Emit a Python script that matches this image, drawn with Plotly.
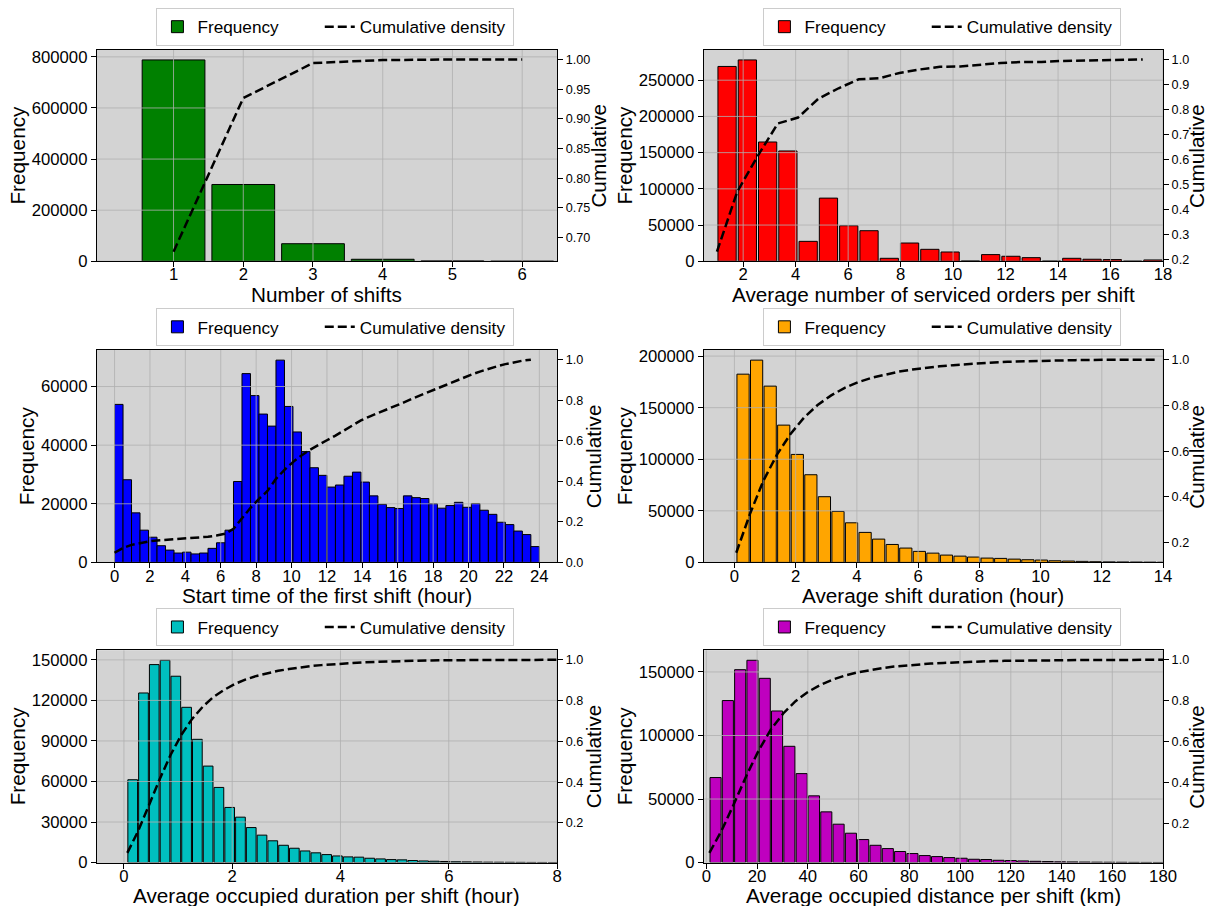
import numpy as np
import plotly.graph_objects as go

FONT = "Liberation Sans, Arial, Helvetica, sans-serif"

# ---------------- data ----------------
# Panel 1: number of shifts
shift_counts = [1, 2, 3, 4, 5, 6]
shift_freq = [788000, 300500, 68700, 7800, 1500, 300]
shift_cum = [0.676, 0.935, 0.994, 0.999, 1.000, 1.000]

# Panel 2: average number of serviced orders per shift (22 bins, 1..18)
orders_bins = (1.0, 18.0, 22)
orders_freq = [269000, 278000, 164700, 152300, 27500, 87200, 49100, 42200, 4100, 25200, 16500,
               12800, 500, 9200, 6900, 5000, 300, 4100, 2800, 2300, 200, 1800]
orders_cum = [0.232, 0.471, 0.613, 0.744, 0.768, 0.843, 0.885, 0.921, 0.925, 0.946, 0.960,
              0.971, 0.972, 0.980, 0.986, 0.990, 0.990, 0.994, 0.996, 0.998, 0.998, 1.000]

# Panel 3: start time of the first shift (50 bins, 0..24 h)
start_bins = (0.0, 24.0, 50)
start_freq = [53900, 28200, 16900, 11000, 8600, 5700, 4200, 3200, 3500, 2900,
              3200, 4800, 6700, 11000, 27600, 64400, 56900, 50600, 46500, 69000,
              53200, 44500, 37800, 32300, 29700, 25700, 26400, 29400, 30800, 27400,
              22700, 19800, 18700, 18400, 22700, 22100, 21800, 20000, 18500, 19400,
              20500, 18800, 20100, 17800, 16400, 13700, 12900, 10700, 9500, 5400]
start_cum = [0.046, 0.070, 0.085, 0.094, 0.102, 0.107, 0.110, 0.113, 0.116, 0.118,
             0.121, 0.125, 0.131, 0.140, 0.164, 0.219, 0.268, 0.312, 0.351, 0.411,
             0.456, 0.494, 0.527, 0.555, 0.580, 0.602, 0.625, 0.650, 0.676, 0.700,
             0.719, 0.736, 0.752, 0.768, 0.788, 0.807, 0.825, 0.842, 0.858, 0.875,
             0.893, 0.909, 0.926, 0.941, 0.955, 0.967, 0.978, 0.987, 0.995, 1.000]

# Panel 4: average shift duration (hour)
dur_bins = (0.06, 0.06 + 0.443 * 32, 32)
dur_freq = [182500, 196100, 170900, 133100, 104700, 85000, 63700, 49400, 38400, 29100,
            22600, 17400, 13900, 10700, 9000, 7100, 6100, 5200, 4200, 3900,
            3200, 2600, 2300, 1600, 1300, 1000, 700, 500, 400, 300, 200, 100]
dur_cum = [0.156, 0.324, 0.471, 0.585, 0.675, 0.747, 0.802, 0.844, 0.877, 0.902,
           0.921, 0.936, 0.948, 0.957, 0.965, 0.971, 0.976, 0.981, 0.984, 0.988,
           0.991, 0.993, 0.995, 0.996, 0.997, 0.998, 0.999, 0.999, 0.9995, 0.9997, 0.9999, 1.000]

# Panel 5: average occupied duration per shift (hour)
occ_bins = (0.063, 0.063 + 0.199 * 41, 41)
occ_freq = [61300, 125500, 146500, 149700, 137900, 114900, 91200, 71400, 55600, 40800,
            33600, 25900, 20300, 16100, 12800, 10600, 8600, 7200, 5900, 4900,
            4200, 4000, 3200, 2700, 2200, 2000, 1500, 1200, 1000, 800,
            600, 500, 400, 300, 250, 200, 150, 100, 80, 50, 30]
occ_cum = [0.053, 0.160, 0.286, 0.414, 0.532, 0.631, 0.709, 0.770, 0.818, 0.853,
           0.882, 0.904, 0.921, 0.935, 0.946, 0.955, 0.963, 0.969, 0.974, 0.978,
           0.982, 0.985, 0.988, 0.990, 0.992, 0.994, 0.995, 0.996, 0.997, 0.998,
           0.998, 0.9987, 0.999, 0.9993, 0.9995, 0.9996, 0.9998, 0.9999, 0.9999, 1.000, 1.000]

# Panel 6: average occupied distance per shift (km)
dist_bins = (1.2, 1.2 + 4.85 * 38, 38)
dist_freq = [66900, 127500, 151800, 159200, 145000, 119300, 91500, 70000, 52500, 39900,
             30200, 23100, 18100, 13600, 11000, 8700, 7100, 5500, 4700, 3900,
             3400, 2600, 2400, 1800, 1600, 1300, 1000, 800, 600, 500,
             400, 300, 250, 200, 150, 100, 80, 50]
dist_cum = [0.057, 0.167, 0.297, 0.433, 0.557, 0.660, 0.738, 0.798, 0.843, 0.877,
            0.903, 0.923, 0.938, 0.950, 0.959, 0.967, 0.973, 0.978, 0.982, 0.985,
            0.988, 0.990, 0.992, 0.994, 0.995, 0.996, 0.997, 0.998, 0.9983, 0.9987,
            0.9991, 0.9993, 0.9995, 0.9997, 0.9998, 0.9999, 1.000, 1.000]

# tick values / labels
p1_xticks = [1, 2, 3, 4, 5, 6]
p1_yticks = [0, 200000, 400000, 600000, 800000]
p1_rticks = [0.70, 0.75, 0.80, 0.85, 0.90, 0.95, 1.00]
p1_rlabels = ["0.70", "0.75", "0.80", "0.85", "0.90", "0.95", "1.00"]

p2_xticks = [2, 4, 6, 8, 10, 12, 14, 16, 18]
p2_yticks = [0, 50000, 100000, 150000, 200000, 250000]
p2_rticks = [0.2, 0.3, 0.4, 0.5, 0.6, 0.7, 0.8, 0.9, 1.0]
p2_rlabels = ["0.2", "0.3", "0.4", "0.5", "0.6", "0.7", "0.8", "0.9", "1.0"]

p3_xticks = [0, 2, 4, 6, 8, 10, 12, 14, 16, 18, 20, 22, 24]
p3_yticks = [0, 20000, 40000, 60000]
p3_rticks = [0.0, 0.2, 0.4, 0.6, 0.8, 1.0]
p3_rlabels = ["0.0", "0.2", "0.4", "0.6", "0.8", "1.0"]

p4_xticks = [0, 2, 4, 6, 8, 10, 12, 14]
p4_yticks = [0, 50000, 100000, 150000, 200000]
p4_rticks = [0.2, 0.4, 0.6, 0.8, 1.0]
p4_rlabels = ["0.2", "0.4", "0.6", "0.8", "1.0"]

p5_xticks = [0, 2, 4, 6, 8]
p5_yticks = [0, 30000, 60000, 90000, 120000, 150000]
p5_rticks = [0.2, 0.4, 0.6, 0.8, 1.0]
p5_rlabels = ["0.2", "0.4", "0.6", "0.8", "1.0"]

p6_xticks = [0, 20, 40, 60, 80, 100, 120, 140, 160, 180]
p6_yticks = [0, 50000, 100000, 150000]
p6_rticks = [0.2, 0.4, 0.6, 0.8, 1.0]
p6_rlabels = ["0.2", "0.4", "0.6", "0.8", "1.0"]


def hist_geometry(bins, rwidth):
    lo, hi, n = bins
    edges = np.linspace(lo, hi, n + 1)
    centers = (edges[:-1] + edges[1:]) / 2
    width = (hi - lo) / n * rwidth
    return centers, width, edges[:-1]


panels = []
c, w, le = np.array(shift_counts, float), 0.9, np.array(shift_counts, float)
panels.append(dict(xc=c, w=w, freq=shift_freq, xl=le, cum=shift_cum, color="#008000",
                   xr=[-0.1, 6.5], xt=p1_xticks, yt=p1_yticks, rt=p1_rticks, rl=p1_rlabels,
                   title="Number of shifts"))
c, w, le = hist_geometry(orders_bins, 0.9)
panels.append(dict(xc=c, w=w, freq=orders_freq, xl=le, cum=orders_cum, color="#ff0000",
                   xr=[0.5, 18], xt=p2_xticks, yt=p2_yticks, rt=p2_rticks, rl=p2_rlabels,
                   title="Average number of serviced orders per shift"))
c, w, le = hist_geometry(start_bins, 1.0)
panels.append(dict(xc=c, w=w, freq=start_freq, xl=le, cum=start_cum, color="#0000ff",
                   xr=[-1, 25], xt=p3_xticks, yt=p3_yticks, rt=p3_rticks, rl=p3_rlabels,
                   title="Start time of the first shift (hour)"))
c, w, le = hist_geometry(dur_bins, 0.9)
panels.append(dict(xc=c, w=w, freq=dur_freq, xl=le, cum=dur_cum, color="#ffa500",
                   xr=[-1, 14], xt=p4_xticks, yt=p4_yticks, rt=p4_rticks, rl=p4_rlabels,
                   title="Average shift duration (hour)"))
c, w, le = hist_geometry(occ_bins, 0.9)
panels.append(dict(xc=c, w=w, freq=occ_freq, xl=le, cum=occ_cum, color="#00bfbf",
                   xr=[-0.5, 8], xt=p5_xticks, yt=p5_yticks, rt=p5_rticks, rl=p5_rlabels,
                   title="Average occupied duration per shift (hour)"))
c, w, le = hist_geometry(dist_bins, 0.9)
panels.append(dict(xc=c, w=w, freq=dist_freq, xl=le, cum=dist_cum, color="#bf00bf",
                   xr=[-1, 180], xt=p6_xticks, yt=p6_yticks, rt=p6_rticks, rl=p6_rlabels,
                   title="Average occupied distance per shift (km)"))

# ---------------- layout geometry ----------------
# Target positions are given in pixels of the final 1210x906 picture.
# The page is photographed slightly reduced (~0.9886), so page sizes are
# scaled by K; the body margin is removed so the figure fills the page.
K = 1 / 0.9886
FW, FH = round(1210 * K), round(906 * K)
col_px = [(95, 556), (703, 1163)]
row_px = [(47, 259), (348, 561), (649, 862)]
legend_top_px = [5, 306, 607]
legend_cx_px = [334, 942]
xtitle_gap_px = 32.5                       # plot bottom -> centre of x-axis title
rtitle_shift_px = [41.5, 33, 35.5, 33, 35.5, 33]   # right spine -> "Cumulative" centre


def fx(px):
    return px * K / FW


def fy(px):
    return 1 - px * K / FH


def axname(kind, k):
    return f"{kind}axis" if k == 1 else f"{kind}axis{k}"


def axref(kind, k):
    return kind if k == 1 else f"{kind}{k}"


fig = go.Figure()
layout = dict(width=FW, height=FH, autosize=False, margin=dict(l=0, r=0, t=0, b=0),
              paper_bgcolor="white", plot_bgcolor="#d3d3d3",
              font=dict(family=FONT, color="black"), showlegend=True)

tick_font = dict(family=FONT, size=16.5 * K, color="black")
rtick_font = dict(family=FONT, size=12.5 * K, color="black")
title_font = dict(family=FONT, size=20.5 * K, color="black")
legend_font = dict(family=FONT, size=17 * K, color="black")
TL = 5 * K
annotations = []

for i, p in enumerate(panels):
    n = i + 1
    r, cidx = divmod(i, 2)
    (x0, x1), (y0, y1) = col_px[cidx], row_px[r]
    xdom = [fx(x0), fx(x1)]
    ydom = [fy(y1), fy(y0)]
    xk, ylk, yrk = n, 2 * n - 1, 2 * n
    xref, ylref, yrref = axref("x", xk), axref("y", ylk), axref("y", yrk)
    legname = "legend" if n == 1 else f"legend{n}"

    ymax = 1.05 * max(p["freq"])
    cmin, cmax = min(p["cum"]), max(p["cum"])
    pad = 0.05 * (cmax - cmin)
    rr = [cmin - pad, cmax + pad]

    fig.add_trace(go.Bar(x=p["xc"], y=p["freq"], width=p["w"], name="Frequency",
                         marker=dict(color=p["color"], line=dict(color="black", width=1)),
                         xaxis=xref, yaxis=ylref, legend=legname, legendwidth=116 * K))

    # grid lines drawn above the bars (as matplotlib does)
    gx, gy = [], []
    for xv in p["xt"]:
        gx += [xv, xv, None]
        gy += [0, ymax, None]
    for yv in p["yt"]:
        gx += [p["xr"][0], p["xr"][1], None]
        gy += [yv, yv, None]
    fig.add_trace(go.Scatter(x=gx, y=gy, mode="lines", line=dict(color="#b0b0b0", width=0.8),
                             showlegend=False, hoverinfo="skip", xaxis=xref, yaxis=ylref))

    fig.add_trace(go.Scatter(x=p["xl"], y=p["cum"], mode="lines", name="Cumulative density",
                             line=dict(color="black", width=2.5, dash="9px,4px"),
                             xaxis=xref, yaxis=yrref, legend=legname, legendwidth=146 * K))

    layout[axname("x", xk)] = dict(
        domain=xdom, anchor=ylref, range=p["xr"], tickvals=p["xt"],
        ticktext=[str(v) for v in p["xt"]], ticks="outside", ticklen=TL, tickwidth=1,
        tickcolor="black", showline=True, linecolor="black", linewidth=1, mirror=True,
        showgrid=False, zeroline=False, tickfont=tick_font, ticklabelstandoff=-7)
    # x-axis title, placed just under the tick labels
    annotations.append(dict(text=p["title"], xref=f"{xref} domain", yref=f"{ylref} domain",
                            x=0.5, y=0, xanchor="center", yanchor="middle",
                            yshift=-xtitle_gap_px * K, showarrow=False, font=title_font))
    # right-axis title
    annotations.append(dict(text="Cumulative", xref=f"{xref} domain", yref=f"{ylref} domain",
                            x=1, y=0.5, xanchor="center", yanchor="middle", textangle=-90,
                            xshift=rtitle_shift_px[i] * K, showarrow=False, font=title_font))
    layout[axname("y", ylk)] = dict(
        domain=ydom, anchor=xref, range=[0, ymax], tickvals=p["yt"],
        ticktext=[str(v) for v in p["yt"]], ticks="outside", ticklen=TL, tickwidth=1,
        tickcolor="black", showline=True, linecolor="black", linewidth=1, mirror=True,
        showgrid=False, zeroline=False, tickfont=tick_font,
        title=dict(text="Frequency", font=title_font, standoff=0))
    layout[axname("y", yrk)] = dict(
        overlaying=ylref, side="right", anchor=xref, range=rr, tickvals=p["rt"],
        ticktext=p["rl"], ticks="outside", ticklen=TL, tickwidth=1, tickcolor="black",
        showline=True, linecolor="black", linewidth=1, showgrid=False, zeroline=False,
        tickfont=rtick_font)
    layout[legname] = dict(
        x=fx(legend_cx_px[cidx]), xanchor="center",
        y=fy(legend_top_px[r]), yanchor="top",
        orientation="h", bgcolor="white", bordercolor="#cccccc", borderwidth=1,
        font=legend_font, traceorder="normal")

layout["annotations"] = annotations
fig.update_layout(**layout)
fig.write_html("out.html", config={"displayModeBar": False, "responsive": False},
               post_script="document.body.style.margin='0';"
                           "document.body.style.overflow='hidden';")
